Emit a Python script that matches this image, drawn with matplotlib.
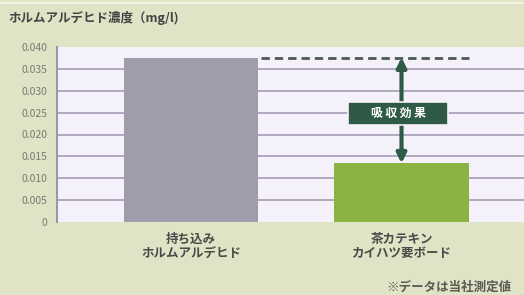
import matplotlib
matplotlib.use("Agg")
import matplotlib.pyplot as plt
from matplotlib.patches import Rectangle

plt.rcParams['font.family'] = ['Noto Sans CJK JP', 'DejaVu Sans']

# data
labels = ["持ち込み\nホルムアルデヒド", "茶カテキン\nカイハツ要ボード"]
values = [0.0376, 0.0134]
bar_colors = ['#a19cab', '#8db244']
yticks = [0, 0.005, 0.010, 0.015, 0.020, 0.025, 0.030, 0.035, 0.040]
ytick_labels = ['0', '0.005', '0.010', '0.015', '0.020', '0.025', '0.030', '0.035', '0.040']

bg = '#dfe4c6'
fig = plt.figure(figsize=(5.24, 2.95), dpi=100)
fig.patch.set_facecolor(bg)
ax = fig.add_axes([57/524, 1 - 222/295, 1 - 57/524, (222 - 47)/295])
ax.set_facecolor('#f4f1fa')

x = [0, 1]
ax.set_xlim(-0.637, 1.582)
ax.set_ylim(0, 0.040)
for t in yticks[1:-1]:
    ax.axhline(t, color='#aaa3ba', lw=1.3, zorder=1)
ax.bar(x, values, width=0.64, color=bar_colors, zorder=2)

# dashed reference line and arrow
ax.plot([0.33, 1.32], [values[0], values[0]], ls=(0, (3, 1.8)), color='#4b5a52', lw=2, zorder=3)
ax.annotate('', xy=(1.0, values[0]), xytext=(1.0, values[1]),
            arrowprops=dict(arrowstyle='<|-|>', color='#2f5a45', lw=3, mutation_scale=14,
                            shrinkA=0, shrinkB=0), zorder=4)
ax.add_patch(Rectangle((0.746, 0.0222), 0.475, 0.0053, fc='#2f5a45', ec='#f4f1fa',
                       lw=1.2, zorder=5))
ax.text(0.985, 0.02485, '吸 収 効 果', color='white', fontsize=8.5, fontweight='bold',
        ha='center', va='center', zorder=6)

ax.set_yticks(yticks)
ax.set_yticklabels(ytick_labels, color='#7a7a72', fontsize=7.5)
ax.tick_params(axis='y', length=0, pad=7)
ax.set_xticks(x)
ax.set_xticklabels(labels, color='#4a4a48', fontsize=9, fontweight='bold', linespacing=1.1)
ax.tick_params(axis='x', length=0, pad=8)
for s in ['top', 'right', 'bottom']:
    ax.spines[s].set_visible(False)
ax.spines['left'].set_color('#9a96a6')
ax.spines['left'].set_linewidth(1.5)

fig.text(8/524, 1 - 18/295, 'ホルムアルデヒド濃度（mg/l)', color='#444442', fontsize=9,
         fontweight='bold', va='center', ha='left')
fig.text(386/524, 1 - 287/295, '※データは当社測定値', color='#5a5a55', fontsize=9,
         fontweight='bold', va='center', ha='left')
fig.add_artist(plt.Line2D([0, 1], [1 - 3/295, 1 - 3/295], color='#f0f2e4', lw=1.5))

fig.savefig('out.png', dpi=100, facecolor=bg)
